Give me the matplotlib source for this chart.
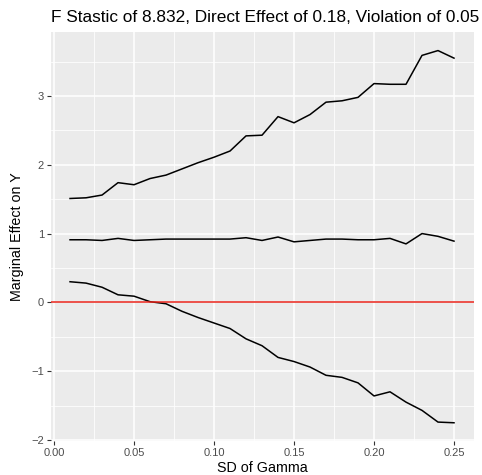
import numpy as np
import matplotlib
matplotlib.use("Agg")
import matplotlib.pyplot as plt

plt.rcParams['font.family'] = ['Liberation Sans', 'DejaVu Sans']

# SD of gamma values
sd_gamma = [0.01, 0.02, 0.03, 0.04, 0.05, 0.06, 0.07, 0.08, 0.09, 0.10,
            0.11, 0.12, 0.13, 0.14, 0.15, 0.16, 0.17, 0.18, 0.19, 0.20,
            0.21, 0.22, 0.23, 0.24, 0.25]

upper = [1.51, 1.52, 1.56, 1.74, 1.71, 1.80, 1.85, 1.94, 2.03, 2.11,
         2.20, 2.42, 2.43, 2.70, 2.61, 2.73, 2.91, 2.93, 2.98, 3.18,
         3.17, 3.17, 3.59, 3.66, 3.55]
estimate = [0.91, 0.91, 0.90, 0.93, 0.90, 0.91, 0.92, 0.92, 0.92, 0.92,
            0.92, 0.94, 0.90, 0.95, 0.88, 0.90, 0.92, 0.92, 0.91, 0.91,
            0.93, 0.85, 1.00, 0.96, 0.89]
lower = [0.30, 0.28, 0.22, 0.11, 0.09, 0.01, -0.02, -0.13, -0.22, -0.30,
         -0.38, -0.53, -0.63, -0.80, -0.86, -0.94, -1.06, -1.09, -1.17, -1.36,
         -1.30, -1.45, -1.57, -1.74, -1.75]

W, H = 482, 475
fig = plt.figure(figsize=(W / 100, H / 100), dpi=100)
# panel in pixels: left 51, right 474, top 32, bottom 441
ax = fig.add_axes([51 / W, (H - 441) / H, (474 - 51) / W, (441 - 32) / H])

ax.set_facecolor("#EBEBEB")
for s in ax.spines.values():
    s.set_visible(False)

# ggplot-like grid
ax.set_xticks([0.0, 0.05, 0.10, 0.15, 0.20, 0.25])
ax.set_xticks([0.025, 0.075, 0.125, 0.175, 0.225], minor=True)
ax.set_yticks([-2, -1, 0, 1, 2, 3])
ax.set_yticks([-1.5, -0.5, 0.5, 1.5, 2.5, 3.5], minor=True)
ax.grid(which="major", color="white", linewidth=1.1)
ax.grid(which="minor", color="white", linewidth=0.55)
ax.set_axisbelow(True)

ax.plot(sd_gamma, upper, color="black", linewidth=1.1)
ax.plot(sd_gamma, estimate, color="black", linewidth=1.1)
ax.plot(sd_gamma, lower, color="black", linewidth=1.1)
ax.axhline(0, color="#E8231A", linewidth=1.1)

ax.set_xlim(-0.0019, 0.2625)
ax.set_ylim(-2.015, 3.93)

ax.set_xticklabels(["0.00", "0.05", "0.10", "0.15", "0.20", "0.25"])
ax.set_yticklabels(["\u22122", "\u22121", "0", "1", "2", "3"])
ax.tick_params(which="major", length=3, color="#333333", labelcolor="#4D4D4D",
               labelsize=8, width=0.8, pad=2)
ax.tick_params(which="minor", length=0)

ax.set_xlabel("SD of Gamma", fontsize=10.3, labelpad=2)
ax.set_ylabel("Marginal Effect on Y", fontsize=10.3, labelpad=5)
ax.set_title("F Stastic of 8.832, Direct Effect of 0.18, Violation of 0.05",
             fontsize=12.4, pad=7, loc="left")

fig.savefig("out.png", dpi=100)
